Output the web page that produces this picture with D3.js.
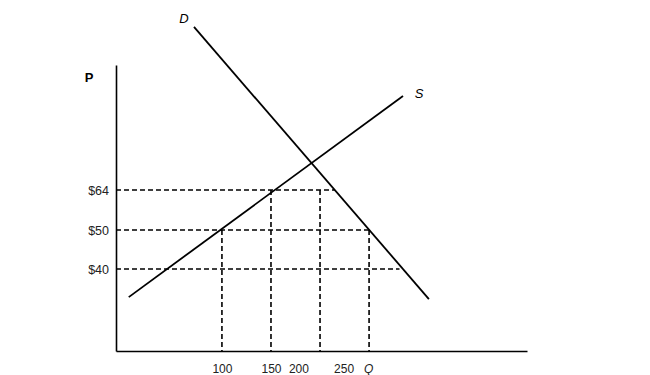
<!DOCTYPE html>
<html>
<head>
<meta charset="utf-8">
<script src="https://cdn.jsdelivr.net/npm/d3@7"></script>
<style>
  body { margin: 0; background: #fff; }
  svg { display: block; font-family: "Liberation Sans", Arial, sans-serif; }
</style>
</head>
<body>
<svg id="chart"></svg>
<script>
const width = 650, height = 375

// price levels marked on the P axis, and where each dashed line stops (in Q)
const priceLevels = [64, 50, 40]
const priceLineEnds = [215, 251, 281]

// quantities with a dashed drop line, and the price each line starts from
const qLines = [100, 150, 200, 250]
const qLineTops = [50, 64, 64, 50]

// x labels as printed, and the Q where each one sits
const qLabels = ['100', '150', '200', '250', 'Q']
const qLabelAt = [100, 150, 178, 224, 249]

// supply and demand curves (end points)
const supply = [{ q: 5, p: 32.8 }, { q: 284.6, p: 97.1 }]
const demand = [{ q: 71.5, p: 121.4 }, { q: 311, p: 32.3 }]

const svg = d3.select('svg#chart')
  .attr('width', width)
  .attr('height', height)

// the sketch is not to scale, so the price scale is piecewise
const x = d3.scaleLinear().domain([-8, 411]).range([116, 527])
const y = d3.scaleLinear().domain([19, 40, 50, 64, 108]).range([351, 269, 230, 190, 65])

const dash = '5,3'

// dashed price lines
svg.append('g').selectAll('line').data(priceLevels)
  .enter().append('line')
    .attr('x1', x(-8))
    .attr('x2', (d, i) => x(priceLineEnds[i]))
    .attr('y1', d => y(d))
    .attr('y2', d => y(d))
    .attr('stroke', '#000')
    .attr('stroke-width', 1.6)
    .attr('stroke-dasharray', dash)

// dashed quantity lines
svg.append('g').selectAll('line').data(qLines)
  .enter().append('line')
    .attr('x1', d => x(d))
    .attr('x2', d => x(d))
    .attr('y1', (d, i) => y(qLineTops[i]))
    .attr('y2', y(19))
    .attr('stroke', '#000')
    .attr('stroke-width', 1.6)
    .attr('stroke-dasharray', dash)

// axes
const yAxis = svg.append('g')
  .attr('transform', `translate(${x(-8)},0)`)
  .call(d3.axisLeft(y).tickValues(priceLevels).tickFormat(d => '$' + d).tickSize(0).tickPadding(7))
const xAxis = svg.append('g')
  .attr('transform', `translate(0,${y(19)})`)
  .call(d3.axisBottom(x).tickValues(qLabelAt).tickFormat((d, i) => qLabels[i]).tickSize(0).tickPadding(13))

yAxis.select('.domain').attr('stroke-width', 1.6)
xAxis.select('.domain').attr('stroke-width', 1.6)
yAxis.selectAll('text').attr('font-size', 12.5).attr('fill', '#222').attr('font-family', 'Liberation Sans, Arial')
xAxis.selectAll('text').attr('font-size', 12).attr('fill', '#222').attr('font-family', 'Liberation Sans, Arial')
xAxis.selectAll('text').filter((d, i) => qLabels[i] === 'Q').attr('font-style', 'italic')

svg.append('text')
  .attr('x', 89).attr('y', 82)
  .attr('text-anchor', 'middle')
  .attr('font-size', 13).attr('font-weight', 'bold')
  .text('P')

// curves
const line = d3.line().x(d => x(d.q)).y(d => y(d.p))
svg.append('path').datum(supply)
  .attr('d', line).attr('fill', 'none').attr('stroke', '#000').attr('stroke-width', 1.8)
svg.append('path').datum(demand)
  .attr('d', line).attr('fill', 'none').attr('stroke', '#000').attr('stroke-width', 1.8)

svg.append('text')
  .attr('x', x(supply[1].q) + 16).attr('y', y(supply[1].p) + 2)
  .attr('text-anchor', 'middle').attr('font-size', 13).attr('font-style', 'italic')
  .text('S')
svg.append('text')
  .attr('x', x(demand[0].q) - 10).attr('y', y(demand[0].p) - 4)
  .attr('text-anchor', 'middle').attr('font-size', 13).attr('font-style', 'italic')
  .text('D')
</script>
</body>
</html>
